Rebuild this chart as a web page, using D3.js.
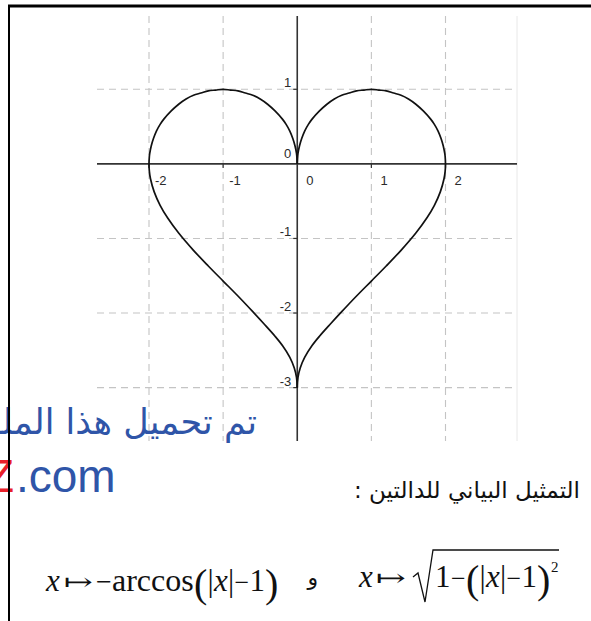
<!DOCTYPE html>
<html>
<head>
<meta charset="utf-8">
<script src="https://cdn.jsdelivr.net/npm/d3@7"></script>
<style>
  html, body { margin: 0; padding: 0; background: #fff; }
  svg { display: block; }
</style>
</head>
<body>
<svg id="chart" width="591" height="621"></svg>
<script>
// ---- data ----
const xTicks = [-2, -1, 0, 1, 2];
const yTicks = [1, 0, -1, -2, -3];
const gridXValues = [-2, -1, 1, 2];
const gridYValues = [1, -1, -2, -3];

// upper arcs (y = sqrt(1-(|x|-1)^2) as drawn)
const upperRightX = [0, 0.01, 0.03, 0.06, 0.1, 0.15, 0.2, 0.3, 0.4, 0.5, 0.6, 0.7, 0.8, 0.9, 1.0, 1.1, 1.2, 1.3, 1.4, 1.5, 1.6, 1.7, 1.8, 1.85, 1.9, 1.94, 1.97, 1.99, 1.995, 2.0];
const upperRightY = [0, 0.14, 0.24, 0.34, 0.44, 0.53, 0.6, 0.71, 0.8, 0.87, 0.92, 0.95, 0.98, 0.99, 1.0, 0.99, 0.98, 0.95, 0.92, 0.87, 0.8, 0.71, 0.6, 0.53, 0.44, 0.34, 0.24, 0.14, 0.1, 0];
const upperLeftX = [0, -0.01, -0.03, -0.06, -0.1, -0.15, -0.2, -0.3, -0.4, -0.5, -0.6, -0.7, -0.8, -0.9, -1.0, -1.1, -1.2, -1.3, -1.4, -1.5, -1.6, -1.7, -1.8, -1.85, -1.9, -1.94, -1.97, -1.99, -1.995, -2.0];
const upperLeftY = [0, 0.14, 0.24, 0.34, 0.44, 0.53, 0.6, 0.71, 0.8, 0.87, 0.92, 0.95, 0.98, 0.99, 1.0, 0.99, 0.98, 0.95, 0.92, 0.87, 0.8, 0.71, 0.6, 0.53, 0.44, 0.34, 0.24, 0.14, 0.1, 0];

// lower curve (y = -arccos(|x|-1) as drawn, cusp reaching -3)
const lowerRightX = [2.0, 1.995, 1.98, 1.93, 1.85, 1.75, 1.6, 1.4, 1.2, 1.0, 0.8, 0.6, 0.45, 0.3, 0.2, 0.1, 0.04, 0.01, 0];
const lowerRightY = [0, -0.1, -0.2, -0.375, -0.555, -0.723, -0.927, -1.159, -1.369, -1.571, -1.772, -1.982, -2.144, -2.311, -2.436, -2.594, -2.736, -2.863, -3.0];
const lowerLeftX = [-2.0, -1.995, -1.98, -1.93, -1.85, -1.75, -1.6, -1.4, -1.2, -1.0, -0.8, -0.6, -0.45, -0.3, -0.2, -0.1, -0.04, -0.01, 0];
const lowerLeftY = [0, -0.1, -0.2, -0.375, -0.555, -0.723, -0.927, -1.159, -1.369, -1.571, -1.772, -1.982, -2.144, -2.311, -2.436, -2.594, -2.736, -2.863, -3.0];

const watermarkLine1 = "تم تحميل هذا الملف";
const watermarkRed = "Z";
const watermarkLine2 = ".com";
const captionText = "التمثيل البياني للدالتين :";
const andWord = "و";

// ---- drawing ----
const svg = d3.select("#chart");
const x = d3.scaleLinear().domain([-2, 2]).range([149, 445.5]);
const y = d3.scaleLinear().domain([1, -3]).range([89.3, 387.6]);

const plotLeft = 97, plotRight = 517, plotTop = 16, plotBottom = 441;

// faint right edge of the graphics view
svg.append("line")
  .attr("x1", plotRight).attr("x2", plotRight)
  .attr("y1", plotTop).attr("y2", plotBottom)
  .attr("stroke", "#e8e8e8").attr("stroke-width", 1);

// grid
const grid = svg.append("g").attr("stroke", "#c4c4c4").attr("stroke-width", 1.1)
  .attr("stroke-dasharray", "7,5");
grid.selectAll("line.gx").data(gridXValues).join("line")
  .attr("class", "gx")
  .attr("x1", d => x(d)).attr("x2", d => x(d))
  .attr("y1", plotTop).attr("y2", plotBottom);
grid.selectAll("line.gy").data(gridYValues).join("line")
  .attr("class", "gy")
  .attr("x1", plotLeft).attr("x2", plotRight)
  .attr("y1", d => y(d)).attr("y2", d => y(d));

// axes
svg.append("line")
  .attr("x1", plotLeft).attr("x2", plotRight)
  .attr("y1", y(0)).attr("y2", y(0))
  .attr("stroke", "#333").attr("stroke-width", 1.6);
svg.append("line")
  .attr("x1", x(0)).attr("x2", x(0))
  .attr("y1", plotTop).attr("y2", plotBottom)
  .attr("stroke", "#333").attr("stroke-width", 1.6);

// ticks
svg.append("g").selectAll("line").data(xTicks.filter(d => d !== 0)).join("line")
  .attr("x1", d => x(d)).attr("x2", d => x(d))
  .attr("y1", y(0)).attr("y2", y(0) + 4)
  .attr("stroke", "#333").attr("stroke-width", 1.2);
svg.append("g").selectAll("line").data(yTicks.filter(d => d !== 0)).join("line")
  .attr("x1", x(0) - 4).attr("x2", x(0))
  .attr("y1", d => y(d)).attr("y2", d => y(d))
  .attr("stroke", "#333").attr("stroke-width", 1.2);

// tick labels
const tickFont = "'Liberation Sans', Arial, sans-serif";
svg.append("g").selectAll("text").data(xTicks).join("text")
  .attr("x", d => x(d) + (d < 0 ? 6 : 9))
  .attr("y", y(0) + 21)
  .attr("font-family", tickFont).attr("font-size", 13).attr("fill", "#2a2a2a")
  .text(d => d);
svg.append("g").selectAll("text").data(yTicks).join("text")
  .attr("x", x(0) - 6)
  .attr("y", d => y(d) - (d === 0 ? 6 : 2))
  .attr("text-anchor", "end")
  .attr("font-family", tickFont).attr("font-size", 13).attr("fill", "#2a2a2a")
  .text(d => d);

// curves
const line = d3.line().x(d => x(d[0])).y(d => y(d[1])).curve(d3.curveCatmullRom.alpha(0.5));
function pts(xs, ys) { return xs.map((v, i) => [v, ys[i]]); }
const rightPath = pts(upperRightX, upperRightY).concat(pts(lowerRightX, lowerRightY).slice(1));
const leftPath = pts(upperLeftX, upperLeftY).concat(pts(lowerLeftX, lowerLeftY).slice(1));
svg.append("g").selectAll("path").data([rightPath, leftPath]).join("path")
  .attr("d", line)
  .attr("fill", "none").attr("stroke", "#111").attr("stroke-width", 1.7);

// watermark
svg.append("text")
  .attr("x", 257).attr("y", 434)
  .attr("text-anchor", "end")
  .attr("font-family", "'DejaVu Sans', sans-serif").attr("font-size", 35)
  .attr("fill", "#2f55a8")
  .text(watermarkLine1);
const wm2 = svg.append("text")
  .attr("x", -14).attr("y", 492)
  .attr("font-family", "'Liberation Sans', Arial, sans-serif").attr("font-size", 46)
  .attr("fill", "#2f55a8");
wm2.append("tspan").attr("fill", "#e8202a").text(watermarkRed);
wm2.append("tspan").attr("x", 16).text(watermarkLine2);

// caption
svg.append("text")
  .attr("x", 580).attr("y", 498)
  .attr("direction", "rtl")
  .style("direction", "rtl")
  .attr("text-anchor", "start")
  .attr("font-family", "'DejaVu Sans', sans-serif").attr("font-size", 23)
  .attr("fill", "#111")
  .text(captionText);

// formulas: pieces placed as in the picture
const serif = "'Liberation Serif', 'Times New Roman', serif";
function formula(baseline, parts) {
  const t = svg.append("text").attr("y", baseline)
    .attr("font-family", serif).attr("font-size", 31).attr("fill", "#111");
  parts.forEach(p => {
    const s = t.append("tspan").attr("x", p.x).text(p.t);
    s.attr("y", baseline + (p.dy || 0));
    if (p.size) s.attr("font-size", p.size);
    if (p.it) s.attr("font-style", "italic");
  });
  return t;
}
function arrow(px, baseline, len) {
  svg.append("text").attr("x", px).attr("y", baseline)
    .attr("font-family", "'DejaVu Sans ExtraLight', 'DejaVu Serif', serif")
    .attr("font-size", 24).attr("fill", "#111")
    .attr("textLength", len).attr("lengthAdjust", "spacingAndGlyphs")
    .text("↦");
}
const b1 = 591;
formula(b1, [{x: 46, t: "x", it: true}]);
arrow(64, b1 - 1, 29);
formula(b1, [
  {x: 96, t: "−", size: 28},
  {x: 112, t: "arccos", size: 32},
  {x: 194, t: "(", size: 40, dy: 6},
  {x: 207.5, t: "|"},
  {x: 214, t: "x", it: true},
  {x: 228, t: "|"},
  {x: 234.5, t: "−", size: 26},
  {x: 249.5, t: "1"},
  {x: 265, t: ")", size: 40, dy: 6}
]);

svg.append("text").attr("x", 318).attr("y", 585)
  .attr("text-anchor", "end")
  .attr("font-family", "'DejaVu Sans', sans-serif").attr("font-size", 22).attr("fill", "#111")
  .text(andWord);

const b2 = 587;
formula(b2, [{x: 359, t: "x", it: true}]);
arrow(376, b2 - 1, 30);
formula(b2, [
  {x: 435, t: "1"},
  {x: 451, t: "−", size: 26},
  {x: 466, t: "(", size: 40, dy: 6},
  {x: 479.5, t: "|"},
  {x: 486, t: "x", it: true},
  {x: 500, t: "|"},
  {x: 506.5, t: "−", size: 26},
  {x: 521.5, t: "1"},
  {x: 537, t: ")", size: 40, dy: 6},
  {x: 551, t: "2", size: 15, dy: -15}
]);

// radical sign
svg.append("path")
  .attr("d", "M413,577 L418,573 L425,602 L433,550 L559,550")
  .attr("fill", "none").attr("stroke", "#111").attr("stroke-width", 1.3)
  .attr("stroke-linejoin", "miter");

// page frame
svg.append("line").attr("x1", 8).attr("x2", 591).attr("y1", 6).attr("y2", 6)
  .attr("stroke", "#000").attr("stroke-width", 3);
svg.append("line").attr("x1", 9).attr("x2", 9).attr("y1", 5).attr("y2", 621)
  .attr("stroke", "#000").attr("stroke-width", 2);
</script>
</body>
</html>
